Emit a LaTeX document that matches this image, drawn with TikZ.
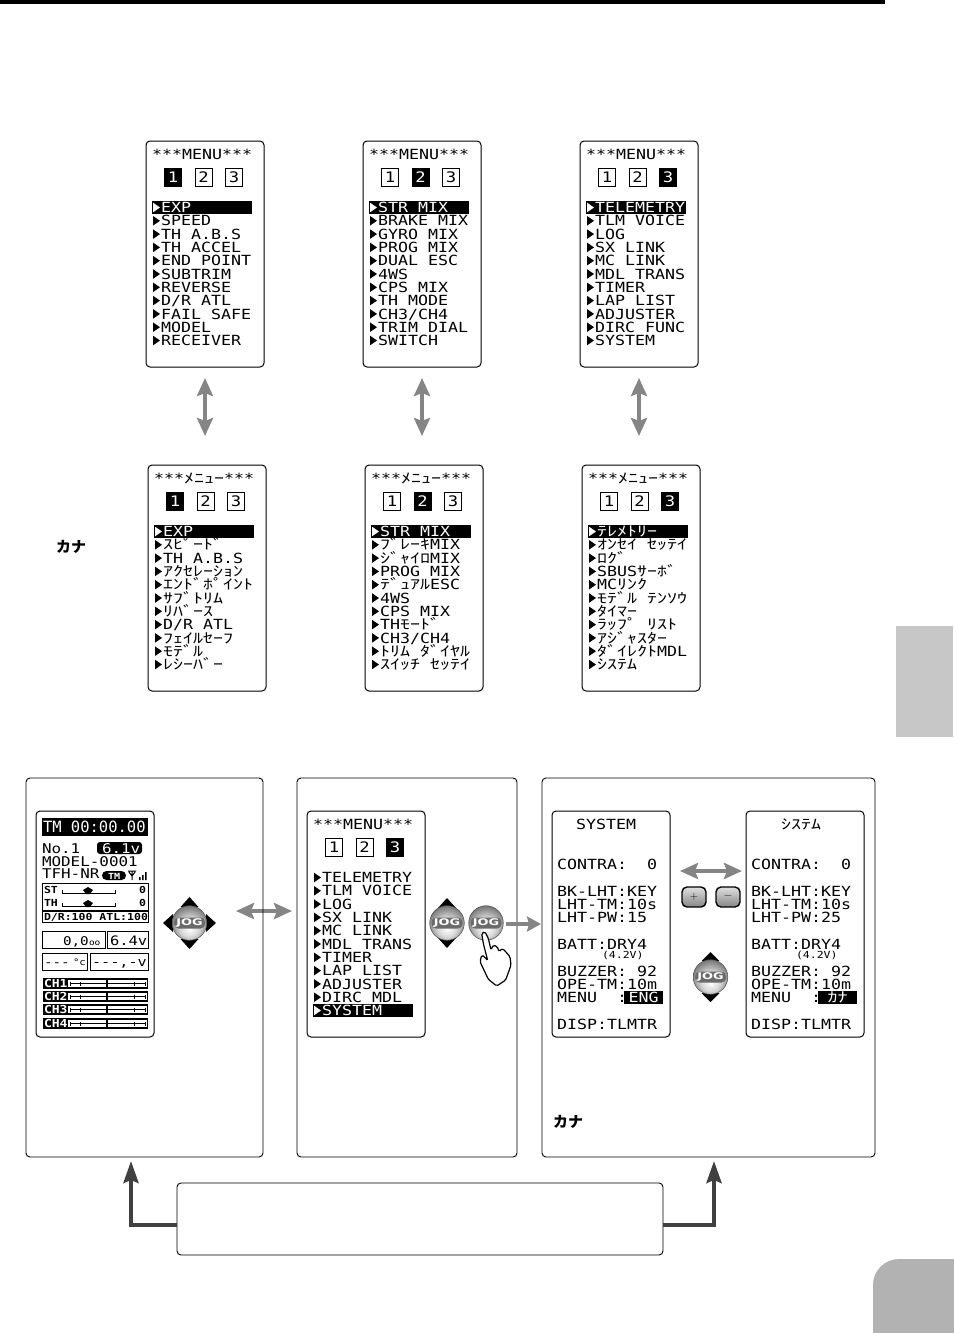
\documentclass[tikz,border=0pt]{standalone}
\usepackage{fontspec}
\usetikzlibrary{arrows.meta}
\newfontfamily\lcdf[FakeStretch=1.187]{DejaVu Sans Mono}
\newfontfamily\lcdt{DejaVu Sans Mono}
\newfontfamily\knf[FakeStretch=1.43]{Noto Sans CJK JP}
\newfontfamily\jpf{Noto Sans CJK JP}
\newfontfamily\jogf[FakeStretch=1.4]{DejaVu Sans}
\newcommand{\K}[1]{{\knf\fontsize{14}{14}\selectfont #1}}
\definecolor{arrowgray}{HTML}{858585}
\definecolor{arrowdark}{HTML}{404040}
\pgfdeclareradialshading{jogball}{\pgfpoint{0bp}{-9bp}}{color(0bp)=(white);color(14bp)=(black!16);color(28bp)=(black!52);color(50bp)=(black!82)}
\tikzset{
  x=1pt,y=-1pt,
  panel/.style={draw=black,line width=0.9pt,rounded corners=4pt,fill=white,inner sep=0pt,outer sep=0pt,anchor=north west},
  screen/.style={draw=black,line width=1pt,rounded corners=4pt,fill=white,inner sep=0pt,outer sep=0pt,anchor=north west,minimum width=118pt,minimum height=226pt},
  lcdtext/.style={inner sep=0pt,outer sep=0pt,anchor=base west,font=\lcdf\fontsize{14}{14}\selectfont},
  lcdmid/.style={lcdtext,font=\lcdf\fontsize{13.4}{14}\selectfont},
  lcdtiny/.style={lcdtext,font=\lcdf\fontsize{12}{12}\selectfont},
  lcdsmall/.style={lcdtext,font=\lcdf\bfseries\fontsize{9.7}{9.7}\selectfont},
  numbox/.style={draw=black,line width=1pt,inner sep=0pt,outer sep=0pt,minimum width=17pt,minimum height=18pt,font=\lcdf\fontsize{14.5}{14.5}\selectfont},
  bar/.style={fill=black},
  frame/.style={draw=black,line width=0.9pt},
  grayarrow/.style={draw=arrowgray,line width=4pt,{Stealth[length=18pt,width=16pt,inset=3pt]}-{Stealth[length=18pt,width=16pt,inset=3pt]}},
  grayone/.style={draw=arrowgray,line width=4.5pt,-{Stealth[length=14pt,width=15pt,inset=2pt]}},
  darkarrow/.style={draw=arrowdark,line width=4pt,-{Stealth[length=22pt,width=15pt,inset=3pt]}},
  kanalabel/.style={inner sep=0pt,font=\jpf\bfseries\fontsize{15}{15}\selectfont},
  jogtext/.style={inner sep=1pt,text=white,font=\jogf\bfseries\fontsize{9.2}{9.2}\selectfont},
  pmkey/.style={draw=black,line width=1.4pt,rounded corners=5pt,minimum width=24pt,minimum height=20pt,inner sep=0pt,top color=black!12,bottom color=black!48,text=black,font=\sffamily\fontsize{11}{11}\selectfont},
}
% name, x, y, title, active page, highlighted row, entries
\newcommand{\menuscreen}[7]{%
  \node[screen] (#1) at (#2,#3) {};
  \node[lcdtext] (#1-title) at ({#2+6},{#3+18.3}) {#4};
  \foreach \pg in {1,2,3}{%
    \pgfmathsetmacro{\bx}{#2+27+30.5*(\pg-1)}
    \ifnum\pg=#5\relax
      \node[numbox,fill=black,text=white] (#1-p\pg) at (\bx,{#3+36.5}) {\pg};
    \else
      \node[numbox,fill=white] (#1-p\pg) at (\bx,{#3+36.5}) {\pg};
    \fi
  }
  \fill[bar] ({#2+6},{#3+60+13.3*(#6-1)}) rectangle ({#2+106},{#3+73+13.3*(#6-1)});
  \foreach \mtxt [count=\mi] in {#7}{%
    \pgfmathsetmacro{\ry}{#3+66.5+13.3*(\mi-1)}
    \ifnum\mi=#6\relax \def\rc{white}\else \def\rc{black}\fi
    \fill[\rc] ({#2+7},{\ry-4.8}) -- ({#2+14},\ry) -- ({#2+7},{\ry+4.8}) -- cycle;
    \node[lcdtext,text=\rc] (#1-r\mi) at ({#2+15},{\ry+5.1}) {\mtxt};
  }
}
% name, x, title macro, PW, menu value
\newcommand{\sysscreen}[5]{%
  \node[screen] (#1) at (#2,811) {};
  #3
  \foreach \yy/\mtxt [count=\mi] in {869/CONTRA:\ \ 0,896/BK-LHT:KEY,909/LHT-TM:10s,922/LHT-PW:#4,949/BATT:DRY4,976/BUZZER:\ 92,989/OPE-TM:10m,1002/MENU\ \ :,1029/DISP:TLMTR}{%
    \node[lcdtext] (#1-l\mi) at ({#2+5},\yy) {\mtxt};
  }
  \node[lcdtext,font=\lcdf\fontsize{9.7}{9.7}\selectfont] (#1-volt) at ({#2+50},958.5) {(4.2V)};
  \node[fill=black,inner sep=0pt,outer sep=0pt,minimum width=39pt,minimum height=13pt,text=white,font=\lcdf\fontsize{14}{14}\selectfont] (#1-val) at ({#2+91.5},997.5) {#5};
}
% name, x, y
\newcommand{\jogball}[3]{%
  \path[shading=jogball] (#2,#3) circle[radius=17.3pt];
  \draw[black!70,line width=0.5pt] (#2,#3) circle[radius=17.3pt];
  \fill[black!58,rounded corners=4.5pt] ({#2-15.5},{#3-5.5}) rectangle ({#2+15.5},{#3+5.5});
  \node[jogtext] (#1) at (#2,#3) {JOG};
}
\newcommand{\updown}[5]{% x, top apex, top base, bottom base, bottom apex
  \fill[black] (#1,#2) -- ({#1+9},#3) -- ({#1-9},#3) -- cycle;
  \fill[black] (#1,#5) -- ({#1+9},#4) -- ({#1-9},#4) -- cycle;
}
\begin{document}
\begin{tikzpicture}
\useasboundingbox (0,0) rectangle (953,1333);
% page furniture
\fill[black] (0,0) rectangle (885,3.5);
\fill[black!22] (896,626) rectangle (953,737);
\fill[black!30,rounded corners=26pt] (873,1380) -- (873,1259) -- (1000,1259) -- (1000,1380) -- cycle;

% upper menus
\menuscreen{a1}{146}{141}{***MENU***}{1}{1}{EXP,SPEED,TH A.B.S,TH ACCEL,END POINT,SUBTRIM,REVERSE,D/R ATL,FAIL SAFE,MODEL,RECEIVER}
\menuscreen{a2}{363}{141}{***MENU***}{2}{1}{STR MIX,BRAKE MIX,GYRO MIX,PROG MIX,DUAL ESC,4WS,CPS MIX,TH MODE,CH3/CH4,TRIM DIAL,SWITCH}
\menuscreen{a3}{580}{141}{***MENU***}{3}{1}{TELEMETRY,TLM VOICE,LOG,SX LINK,MC LINK,MDL TRANS,TIMER,LAP LIST,ADJUSTER,DIRC FUNC,SYSTEM}
% lower menus
\menuscreen{b1}{148}{465}{***\K{ﾒﾆｭｰ}***}{1}{1}{EXP,\K{ｽﾋﾟｰﾄﾞ},TH A.B.S,\K{ｱｸｾﾚｰｼｮﾝ},\K{ｴﾝﾄﾞﾎﾟｲﾝﾄ},\K{ｻﾌﾞﾄﾘﾑ},\K{ﾘﾊﾞｰｽ},D/R ATL,\K{ﾌｪｲﾙｾｰﾌ},\K{ﾓﾃﾞﾙ},\K{ﾚｼｰﾊﾞｰ}}
\menuscreen{b2}{365}{465}{***\K{ﾒﾆｭｰ}***}{2}{1}{STR MIX,\K{ﾌﾞﾚｰｷ}MIX,\K{ｼﾞｬｲﾛ}MIX,PROG MIX,\K{ﾃﾞｭｱﾙ}ESC,4WS,CPS MIX,TH\K{ﾓｰﾄﾞ},CH3/CH4,\K{ﾄﾘﾑ} \K{ﾀﾞｲﾔﾙ},\K{ｽｲｯﾁ} \K{ｾｯﾃｲ}}
\menuscreen{b3}{582}{465}{***\K{ﾒﾆｭｰ}***}{3}{1}{\K{ﾃﾚﾒﾄﾘｰ},\K{ｵﾝｾｲ} \K{ｾｯﾃｲ},\K{ﾛｸﾞ},SBUS\K{ｻｰﾎﾞ},MC\K{ﾘﾝｸ},\K{ﾓﾃﾞﾙ} \K{ﾃﾝｿｳ},\K{ﾀｲﾏｰ},\K{ﾗｯﾌﾟ} \K{ﾘｽﾄ},\K{ｱｼﾞｬｽﾀｰ},\K{ﾀﾞｲﾚｸﾄ}MDL,\K{ｼｽﾃﾑ}}
\foreach \tp/\bt in {a1/b1,a2/b2,a3/b3}{
  \draw[grayarrow,shorten <=11pt,shorten >=29pt] (\tp.south) -- (\tp.south |- \bt.north);
}
\node[kanalabel] (kana1) at (71,547) {カナ};

% arrow behind the first panel edge
\coordinate (hl) at (236,911);
\coordinate (hr) at (292,911);
\draw[grayarrow] (hl) -- (hr);

% bottom panels
\node[panel,minimum width=237pt,minimum height=379pt,fill=none] (p1) at (26,778) {};
\node[panel,minimum width=220pt,minimum height=379pt,fill=none] (p2) at (297,778) {};
\node[panel,minimum width=333pt,minimum height=379pt,fill=none] (p3) at (542,778) {};
\node[panel,minimum width=486pt,minimum height=72pt] (note) at (177,1183) {};

% home screen
\node[screen] (home) at (36,811) {};
\fill[bar] (42,818) rectangle (148,836);
\node[lcdtext,text=white,font=\lcdt\fontsize{15.5}{15.5}\selectfont] (h-time) at (43,832.5) {TM 00:00.00};
\node[lcdmid] (h-no) at (42,853) {No.1};
\fill[bar,rounded corners=3pt] (97,842) rectangle (142,854);
\node[lcdmid,text=white] (h-volt) at (102,853) {6.1v};
\node[lcdmid] (h-model) at (42,866) {MODEL-0001};
\node[lcdmid] (h-type) at (42,878.5) {TFH-NR};
\fill[bar,rounded corners=4.5pt] (102,871) rectangle (126,880);
\node[lcdtext,text=white,font=\lcdf\bfseries\fontsize{8.5}{8.5}\selectfont] (h-tm) at (108,879) {TM};
\draw[black,line width=1pt] (132,871) -- (132,880) (128,871) -- (136,871) (129,872) -- (132,876) (135,872) -- (132,876);
\fill[black] (139,877) rectangle (140.5,880) (142,875) rectangle (143.5,880) (145,872) rectangle (146.5,880);
\draw[frame] (42,883) rectangle (148,910);
\draw[frame] (42,911.5) rectangle (148,922.5);
\node[lcdsmall] (h-st) at (44,893.5) {ST};
\node[lcdsmall] (h-th) at (44,906.5) {TH};
\node[lcdsmall] (h-s0) at (139,893.5) {0};
\node[lcdsmall] (h-t0) at (139,906.5) {0};
\foreach \ry in {893,906}{
  \draw[black,line width=0.9pt] (62,{\ry-3}) -- (62,\ry) -- (115,\ry) -- (115,{\ry-3});
  \fill[black] (88,{\ry-6}) -- (93,{\ry-3}) -- (90,{\ry+1}) -- (86,{\ry+1}) -- (83,{\ry-3}) -- cycle;
}
\node[lcdsmall] (h-dr) at (44,920.5) {D/R:100 ATL:100};
\draw[frame] (42,931) rectangle (105,948);
\draw[frame] (107,931) rectangle (148,948);
\draw[frame] (42,953) rectangle (87,970);
\draw[frame] (90,953) rectangle (148,970);
\node[lcdtiny] (h-d1) at (63,945) {0,0};
\node[lcdtext,font=\lcdf\fontsize{8}{8}\selectfont] (h-d1b) at (89,945) {oo};
\node[lcdtiny,font=\lcdf\fontsize{13}{13}\selectfont] (h-d2) at (110,945) {6.4v};
\node[lcdtiny] (h-d3) at (44,966.5) {---};
\node[lcdtext,font=\lcdf\fontsize{9}{9}\selectfont] (h-d3b) at (73,965) {°c};
\node[lcdtiny,font=\lcdf\fontsize{12.8}{12.8}\selectfont] (h-d4) at (92,966.5) {---,-v};
\foreach \cy/\cn in {978/1,991/2,1004/3,1018/4}{
  \fill[bar] (43,\cy) rectangle (148,{\cy+11});
  \fill[white] (68,{\cy+2}) rectangle (147,{\cy+9});
  \draw[black,line width=0.8pt] (70,{\cy+5.5}) -- (145,{\cy+5.5});
  \draw[black,line width=1.2pt] (107,{\cy+1}) -- (107,{\cy+10});
  \draw[black,line width=0.8pt] (70,{\cy+3.5}) -- (70,{\cy+7.5}) (80,{\cy+3.5}) -- (80,{\cy+7.5}) (134,{\cy+3.5}) -- (134,{\cy+7.5}) (145,{\cy+3.5}) -- (145,{\cy+7.5});
  \node[lcdsmall,text=white,font=\lcdf\bfseries\fontsize{11}{11}\selectfont] (h-ch\cn) at (44,{\cy+9.5}) {CH\cn};
}

% jog 1
\fill[black] (163,923) -- (173,914) -- (173,932) -- cycle;
\fill[black] (216,923) -- (206,914) -- (206,932) -- cycle;
\updown{189.5}{897}{907}{939}{949}
\jogball{jog1}{189.5}{923}

% menu in panel 2
\menuscreen{c1}{307}{811}{***MENU***}{3}{11}{TELEMETRY,TLM VOICE,LOG,SX LINK,MC LINK,MDL TRANS,TIMER,LAP LIST,ADJUSTER,DIRC MDL,SYSTEM}
\updown{447}{898}{908}{938}{948}
\jogball{jog2}{447}{923}
\jogball{jog3}{486}{923}
\fill[white] (485,931.7) -- (488.3,938.3) -- (491,950) -- (493.3,945) -- (497.3,946.7) -- (499,951.7) -- (502.3,948.3) -- (505.7,951.7) -- (510,956.7) -- (511,965) -- (505.7,980) -- (496.7,986) -- (488.3,979.3) -- (480,961.7) -- (481.7,955) -- (485,957.3) -- (487.7,960.7) -- (483.3,943.3) -- (481.7,933.3) -- cycle;
\draw[black,line width=1.2pt,rounded corners=1.5pt] (481.7,933.3) -- (483.3,943.3) -- (487.7,960.7) -- (485,957.3) -- (481.7,955) -- (480,961.7) -- (488.3,979.3) -- (496.7,986) -- (505.7,980) -- (511,965) -- (510,956.7) -- (505.7,951.7) -- (502.3,948.3) -- (499,951.7) -- (497.3,946.7) -- (493.3,945) -- (491,950) -- (488.3,938.3) -- (485,931.7) -- cycle;
\coordinate (oa) at (506,924);
\coordinate (ob) at (541,924);
\draw[grayone] (oa) -- (ob);

% system screens
\sysscreen{s1}{552}{\node[lcdtext] (s1-title) at (576,829) {SYSTEM};}{15}{ENG}
\sysscreen{s2}{746}{\node[lcdtext] (s2-title) at (781,829) {\K{ｼｽﾃﾑ}};}{25}{\K{ｶﾅ}}
\coordinate (sl) at (680,871);
\coordinate (sr) at (742,871);
\draw[grayarrow] (sl) -- (sr);
\node[pmkey] (plus) at (694,897) {+};
\node[pmkey] (minus) at (728,897) {\textminus};
\updown{710.5}{952}{961}{993}{1002}
\jogball{jog4}{710.5}{977}
\node[kanalabel] (kana2) at (568,1122) {カナ};

% note connectors
\coordinate (nl) at (177,1225);
\coordinate (nr) at (663,1225);
\coordinate (pl) at (131,1161);
\coordinate (pr) at (714,1161);
\draw[darkarrow] (nl) -| (pl);
\draw[darkarrow] (nr) -| (pr);
\end{tikzpicture}
\end{document}
